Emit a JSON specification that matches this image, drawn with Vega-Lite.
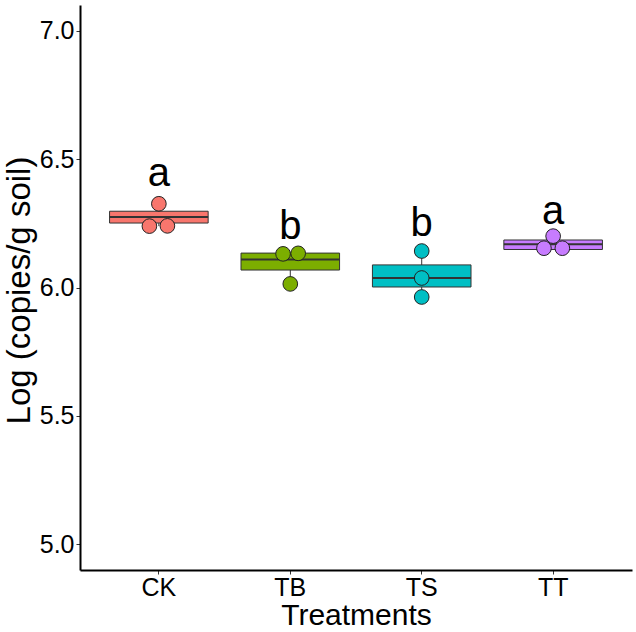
{
  "$schema": "https://vega.github.io/schema/vega-lite/v6.json",
  "width": 552,
  "height": 565,
  "autosize": {"type": "none"},
  "padding": {"left": 80, "top": 5, "right": 4, "bottom": 62},
  "background": "white",
  "datasets": {
    "boxes": [
      {"treatment": "CK", "lower": 6.239, "q1": 6.251, "median": 6.275, "q3": 6.297, "upper": 6.326},
      {"treatment": "TB", "lower": 6.014, "q1": 6.068, "median": 6.109, "q3": 6.134, "upper": 6.134},
      {"treatment": "TS", "lower": 5.963, "q1": 6.002, "median": 6.037, "q3": 6.088, "upper": 6.142},
      {"treatment": "TT", "lower": 6.153, "q1": 6.148, "median": 6.168, "q3": 6.185, "upper": 6.2}
    ],
    "points": [
      {"treatment": "CK", "value": 6.326, "jitter": 0.0},
      {"treatment": "CK", "value": 6.239, "jitter": -0.072},
      {"treatment": "CK", "value": 6.240, "jitter": 0.065},
      {"treatment": "TB", "value": 6.131, "jitter": -0.055},
      {"treatment": "TB", "value": 6.133, "jitter": 0.06},
      {"treatment": "TB", "value": 6.014, "jitter": 0.0},
      {"treatment": "TS", "value": 6.142, "jitter": 0.0},
      {"treatment": "TS", "value": 6.037, "jitter": 0.0},
      {"treatment": "TS", "value": 5.963, "jitter": 0.0},
      {"treatment": "TT", "value": 6.2, "jitter": 0.0},
      {"treatment": "TT", "value": 6.153, "jitter": -0.07},
      {"treatment": "TT", "value": 6.153, "jitter": 0.07}
    ],
    "letters": [
      {"treatment": "CK", "letter": "a", "pos": 6.396},
      {"treatment": "TB", "letter": "b", "pos": 6.189},
      {"treatment": "TS", "letter": "b", "pos": 6.2},
      {"treatment": "TT", "letter": "a", "pos": 6.248}
    ]
  },
  "resolve": {"scale": {"x": "independent", "xOffset": "independent"}, "axis": {"x": "independent"}},
  "layer": [
    {
      "encoding": {
        "x": {
          "field": "treatment",
          "type": "nominal",
          "scale": {"type": "band", "domain": ["CK", "TB", "TS", "TT"], "paddingInner": 0.25, "paddingOuter": 0.225},
          "axis": {
            "title": "Treatments",
            "labelAngle": 0,
            "labelFontSize": 25,
            "labelPadding": 1,
            "titleFontSize": 30,
            "titlePadding": 0
          }
        }
      },
      "layer": [
        {
          "data": {"name": "boxes"},
          "mark": {"type": "rule", "color": "#333333", "strokeWidth": 1},
          "encoding": {
            "y": {"field": "lower", "type": "quantitative", "scale": {"domain": [4.9, 7.1], "nice": false, "zero": false},
              "axis": {
                "title": "Log (copies/g soil)",
                "values": [5, 5.5, 6, 6.5, 7],
                "format": ".1f",
                "labelFontSize": 25,
                "labelPadding": 2,
                "titleFontSize": 33,
                "titleX": -44,
                "titleY": 285,
                "titleBaseline": "bottom"
              }
            },
            "y2": {"field": "upper"}
          }
        },
        {
          "data": {"name": "boxes"},
          "mark": {"type": "bar", "stroke": "#333333", "strokeWidth": 1},
          "encoding": {
            "y": {"field": "q1", "type": "quantitative"},
            "y2": {"field": "q3"},
            "fill": {
              "field": "treatment",
              "type": "nominal",
              "scale": {"domain": ["CK", "TB", "TS", "TT"], "range": ["#F8766D", "#7CAE00", "#00BFC4", "#C77CFF"]},
              "legend": null
            }
          }
        },
        {
          "data": {"name": "boxes"},
          "mark": {"type": "bar", "fill": null, "stroke": "#333333", "strokeWidth": 2},
          "encoding": {
            "y": {"field": "median", "type": "quantitative"},
            "y2": {"field": "median"}
          }
        },
        {
          "data": {"name": "letters"},
          "mark": {"type": "text", "fontSize": 40, "baseline": "alphabetic", "color": "black", "font": "Liberation Sans"},
          "encoding": {
            "y": {"field": "pos", "type": "quantitative"},
            "text": {"field": "letter"}
          }
        }
      ]
    },
    {
      "data": {"name": "points"},
      "mark": {"type": "circle", "size": 215, "stroke": "#222222", "strokeWidth": 1, "opacity": 1},
      "encoding": {
        "x": {
          "field": "treatment",
          "type": "nominal",
          "scale": {"type": "band", "domain": ["CK", "TB", "TS", "TT"], "paddingInner": 0, "paddingOuter": 0.1},
          "axis": null
        },
        "xOffset": {"field": "jitter", "type": "quantitative", "scale": {"domain": [-0.5, 0.5]}},
        "y": {"field": "value", "type": "quantitative"},
        "fill": {"field": "treatment", "type": "nominal", "legend": null}
      }
    }
  ],
  "config": {
    "view": {"stroke": null},
    "font": "Liberation Sans",
    "axis": {
      "grid": false,
      "domainColor": "black",
      "domainWidth": 2,
      "tickColor": "#333333",
      "tickSize": 4,
      "tickWidth": 1,
      "labelColor": "black",
      "titleColor": "black",
      "labelFont": "Liberation Sans",
      "titleFont": "Liberation Sans",
      "titleFontWeight": "normal"
    }
  }
}
